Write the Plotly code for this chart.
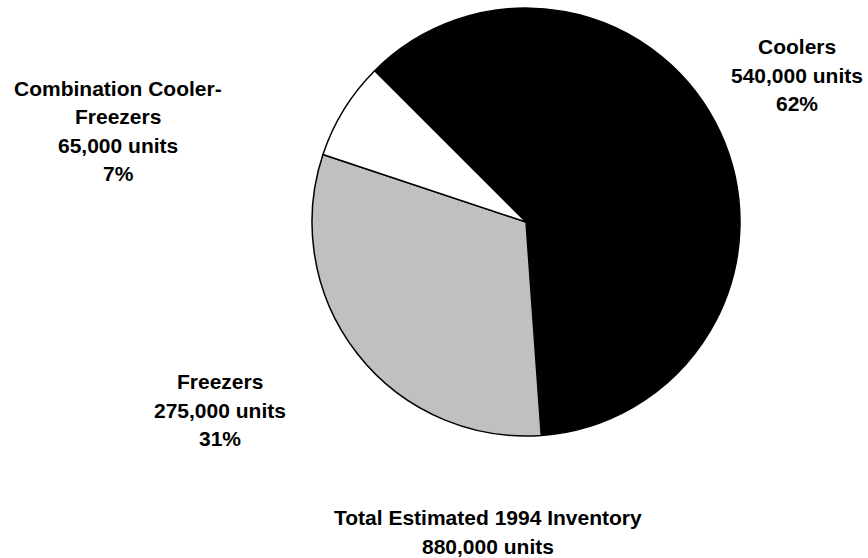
import plotly.graph_objects as go

# Inventory by unit type
categories = ["Coolers", "Freezers", "Combination Cooler-<br>Freezers"]
units = [540000, 275000, 65000]
percent_labels = ["62%", "31%", "7%"]
colors = ["#000000", "#c0c0c0", "#ffffff"]
total_units = 880000
total_title = "Total Estimated 1994 Inventory"

W, H = 868, 558
LINE_GAP = 28.6  # px between caption lines

fig = go.Figure(
    go.Pie(
        labels=categories,
        values=units,
        sort=False,
        direction="clockwise",
        rotation=-45,
        marker=dict(colors=colors, line=dict(color="#000000", width=1.5)),
        textinfo="none",
        hoverinfo="label+value",
        showlegend=False,
        domain=dict(x=[312 / W, 740 / W], y=[1 - 436 / H, 1 - 8 / H]),
    )
)

font = dict(family="Liberation Sans, Arial, Helvetica, sans-serif", size=21,
            color="#000000", weight="bold")


def caption(lines, cx, cy):
    """Place a multi-line caption centred at pixel (cx, cy), one line per annotation."""
    n = len(lines)
    for i, line in enumerate(lines):
        py = cy + (i - (n - 1) / 2) * LINE_GAP
        fig.add_annotation(
            text=line, x=cx / W, y=1 - py / H, xref="paper", yref="paper",
            xanchor="center", yanchor="middle", showarrow=False, font=font,
        )


# caption centres (pixels) for each slice
label_pos = [(797, 75), (220, 410), (118, 131)]

for cat, val, pct, (px, py) in zip(categories, units, percent_labels, label_pos):
    caption(cat.split("<br>") + [f"{val:,} units", pct], px, py)

caption([total_title, f"{total_units:,} units"], 488, 532)

fig.update_layout(
    width=W, height=H,
    margin=dict(l=0, r=0, t=0, b=0),
    paper_bgcolor="#ffffff", plot_bgcolor="#ffffff",
)

fig.write_html("out.html")
